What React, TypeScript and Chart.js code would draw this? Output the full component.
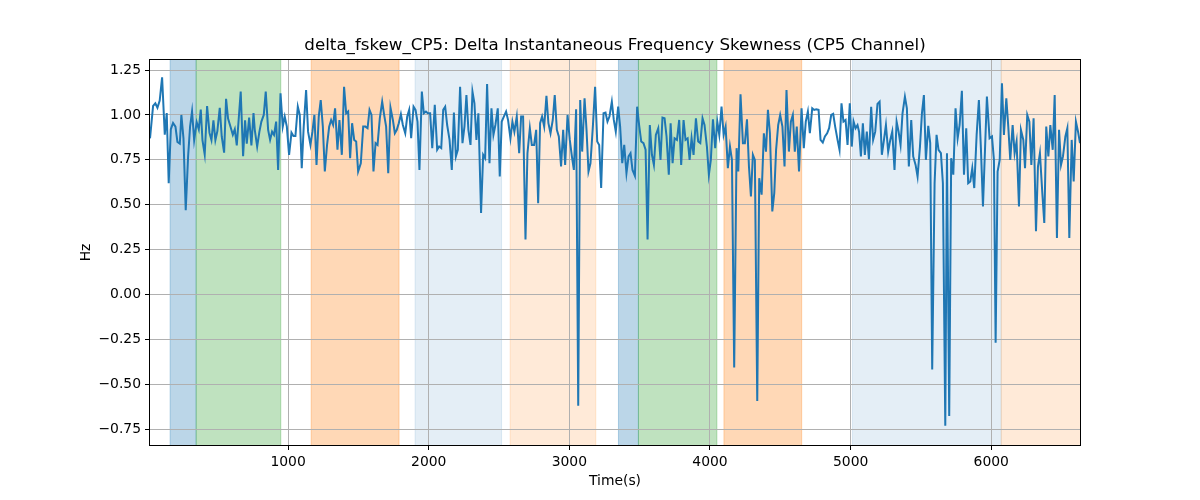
import React, { useEffect, useRef } from "react";
import { Chart, registerables } from "chart.js";

Chart.register(...registerables);

// ---- data ----
const timeS: number[] = [
  18, 40, 56, 71, 87, 104, 123, 137, 151, 166, 182, 199, 213, 230, 241, 256, 272, 289, 303, 317,
  332, 350, 365, 379, 391, 407, 424, 441, 455, 469, 483, 497, 514, 528, 545, 559, 573, 592, 607, 621,
  635, 649, 663, 680, 694, 706, 723, 739, 754,
  763, 780, 796, 810, 827, 841, 858, 872, 886, 900, 915, 929, 946, 962, 976, 991, 1007, 1024, 1038, 1052,
  1069, 1083, 1097, 1111, 1128, 1142, 1159, 1173, 1187, 1202, 1218, 1232, 1247, 1261, 1277, 1292, 1306, 1320, 1334, 1351,
  1365, 1382, 1398, 1413, 1427, 1441, 1455, 1470, 1484, 1498,
  1517, 1534, 1550, 1565, 1579, 1593, 1607, 1622, 1636, 1652, 1669, 1683, 1697, 1712, 1728, 1745, 1759, 1773, 1787, 1802,
  1816, 1833, 1847, 1861, 1875, 1892, 1906, 1920, 1934, 1951, 1965, 1980, 1994, 2010, 2025, 2043, 2060, 2074, 2089, 2103,
  2117, 2131, 2148, 2164, 2179, 2193, 2207,
  2223, 2240, 2254, 2268, 2282, 2297, 2311, 2325, 2339, 2353, 2372, 2387, 2401, 2415, 2432, 2446, 2460, 2474, 2491, 2505,
  2519, 2534, 2550, 2564, 2581, 2595, 2609, 2626, 2643, 2657, 2671, 2688, 2702, 2719, 2733, 2749, 2764, 2778, 2792, 2806,
  2821, 2837, 2851, 2866, 2882, 2896, 2911, 2925, 2941, 2956, 2970,
  2987, 3003, 3018, 3032, 3048, 3063, 3077, 3091, 3108, 3122, 3136, 3150, 3167, 3183, 3198, 3212, 3226, 3243, 3257, 3271,
  3285, 3302, 3316, 3330, 3347, 3361, 3376, 3390, 3406, 3421, 3435, 3449, 3466, 3482, 3496, 3511, 3527, 3542, 3556, 3572,
  3587, 3601, 3615, 3632, 3648, 3662, 3677, 3691, 3707,
  3720, 3734, 3748, 3765, 3781, 3795, 3812, 3826, 3841, 3855, 3869, 3883, 3900, 3916, 3931, 3947, 3961, 3978, 3992, 4006,
  4021, 4037, 4052, 4066, 4082, 4097, 4111, 4127, 4142, 4156, 4172, 4189, 4201, 4217, 4234, 4248, 4263, 4277, 4291, 4305,
  4319, 4336, 4350, 4367, 4383, 4398, 4412, 4426, 4443, 4457,
  4470, 4485, 4499, 4515, 4530, 4544, 4561, 4575, 4589, 4603, 4617, 4633, 4651, 4667, 4681, 4696, 4710, 4727, 4741, 4755,
  4772, 4786, 4802, 4817, 4833, 4847, 4862, 4876, 4890, 4907, 4921, 4935, 4949, 4964, 4978, 4994, 5008, 5021, 5035, 5049,
  5060, 5073, 5087, 5101, 5115, 5130, 5146, 5160, 5175, 5191,
  5206, 5222, 5237, 5251, 5267, 5282, 5296, 5312, 5327, 5341, 5355, 5369, 5386, 5400, 5414, 5431, 5445, 5462, 5476, 5493,
  5507, 5521, 5535, 5552, 5566, 5580, 5597, 5611, 5625, 5642, 5656, 5673, 5685, 5701, 5715, 5730, 5746, 5761, 5775, 5791,
  5806, 5822, 5836, 5851, 5865, 5879, 5896, 5912, 5927,
  5941, 5969, 5988, 6005, 6019, 6031, 6045, 6060, 6076, 6090, 6107, 6121, 6135, 6152, 6166, 6180, 6197, 6211, 6228, 6240,
  6256, 6271, 6285, 6301, 6318, 6332, 6346, 6363, 6377, 6391, 6406, 6420, 6437, 6451, 6467, 6482, 6496, 6510, 6527, 6541,
  6555, 6572, 6586, 6602, 6617, 6631,
];

const skewHz: number[] = [
  0.87, 1.05, 1.065, 1.04, 1.08, 1.21, 0.89, 1.01, 0.62, 0.92, 0.955, 0.935, 0.85, 0.84, 1.0, 0.87, 0.47, 0.77, 0.935, 1.02,
  0.86, 0.96, 0.92, 1.03, 0.86, 0.78, 1.05, 0.9, 0.86, 0.97, 0.86, 0.91, 1.04, 0.88, 0.79, 1.09, 0.98, 0.93, 0.89, 0.92,
  0.83, 0.98, 1.13, 0.77, 0.97, 0.84, 0.985, 0.83, 1.01,
  0.917, 0.824, 0.907, 0.963, 1.0, 1.13, 0.917, 0.861, 0.907, 0.889, 0.963, 0.694, 1.12, 0.935, 0.991, 0.935, 0.778, 0.902, 0.883, 0.883,
  1.046, 1.0, 0.704, 0.935, 1.139, 0.907, 0.833, 0.907, 1.0, 0.722, 0.991, 1.083, 0.935, 0.685, 0.833, 0.935, 0.972, 0.944, 1.037, 0.806,
  0.972, 0.778, 1.157, 1.009, 1.019, 0.759, 0.954, 0.861, 0.852, 0.685,
  0.731, 0.935, 0.935, 0.926, 1.028, 1.0, 0.685, 0.843, 0.833, 0.981, 1.074, 1.0, 0.935, 0.676, 1.041, 0.972, 0.898, 0.917, 0.954, 1.004,
  0.944, 0.898, 0.991, 1.028, 0.87, 1.046, 1.028, 0.963, 0.694, 1.13, 1.009, 1.019, 1.009, 1.009, 0.815, 1.056, 0.806, 0.824, 0.815, 1.028,
  1.046, 0.944, 0.861, 0.694, 1.013, 0.769, 0.806,
  1.157, 0.843, 0.935, 1.111, 0.917, 0.833, 1.13, 1.065, 0.861, 1.009, 0.454, 0.778, 0.759, 1.172, 0.731, 1.037, 0.889, 0.944, 1.037, 0.657,
  0.963, 0.991, 1.019, 0.972, 0.87, 0.963, 0.907, 0.991, 0.787, 0.991, 0.991, 0.306, 0.787, 0.926, 0.833, 0.833, 0.917, 0.509, 0.954, 0.991,
  0.935, 1.106, 0.954, 0.898, 0.972, 1.111, 0.917, 0.88, 0.713, 0.917, 0.722,
  1.0, 0.861, 0.769, 0.694, 1.031, -0.62, 1.083, 0.796, 1.093, 0.917, 0.685, 0.731, 0.935, 1.157, 0.852, 0.833, 0.593, 1.009, 1.013, 0.963,
  0.991, 1.074, 0.972, 0.907, 1.046, 0.935, 0.731, 0.833, 0.676, 0.769, 0.787, 0.694, 0.661, 1.046, 0.944, 0.852, 0.843, 0.806, 0.306, 0.944,
  0.778, 0.722, 0.889, 0.926, 0.75, 0.985, 0.981, 0.88, 0.667,
  0.954, 0.731, 0.87, 0.861, 0.972, 0.722, 0.972, 0.861, 0.87, 0.75, 0.87, 0.778, 0.981, 0.852, 0.843, 0.981, 0.944, 0.824, 0.667, 0.75,
  0.976, 0.815, 0.963, 0.889, 1.046, 0.889, 0.935, 0.704, 0.824, 0.75, -0.407, 0.815, 0.685, 1.115, 0.843, 0.843, 0.976, 0.713, 0.546, 0.778,
  0.75, -0.593, 0.648, 0.556, 0.898, 0.796, 1.028, 0.898, 0.463, 0.565,
  0.806, 0.944, 1.0, 0.935, 0.713, 1.139, 0.796, 0.963, 1.0, 0.796, 0.935, 0.685, 1.037, 0.815, 0.963, 1.019, 0.898, 1.037, 1.028, 1.031,
  1.028, 0.861, 0.846, 0.88, 0.898, 0.926, 1.0, 1.006, 0.935, 0.861, 0.806, 1.065, 0.963, 0.972, 0.833, 1.065, 0.824, 0.963, 0.926, 0.944,
  0.907, 0.769, 0.954, 0.778, 0.907, 0.754, 1.046, 0.861, 0.907, 1.061,
  1.074, 0.778, 0.861, 0.944, 0.796, 0.861, 0.907, 0.694, 0.963, 0.907, 0.833, 1.009, 1.102, 1.037, 0.713, 0.972, 0.769, 0.722, 0.657, 0.824,
  1.009, 1.111, 0.75, 0.939, 0.843, -0.417, 0.62, 0.889, 0.806, 0.787, 0.62, -0.731, 0.787, -0.676, 0.759, 0.667, 1.037, 0.87, 0.944, 1.135,
  0.667, 0.926, 0.62, 0.63, 0.704, 0.593, 0.889, 1.083, 0.8,
  0.491, 1.102, 0.87, 0.88, 0.75, -0.269, 0.685, 0.75, 1.176, 0.889, 1.093, 0.935, 0.75, 0.944, 0.787, 0.852, 0.491, 0.917, 0.861, 0.704,
  1.0, 0.963, 0.722, 0.981, 0.352, 0.713, 0.787, 0.565, 0.398, 0.935, 0.769, 0.944, 0.806, 1.111, 0.315, 0.917, 0.722, 0.769, 0.88, 0.926,
  0.315, 0.861, 0.63, 0.963, 0.907, 0.843,
];

const spanStart: number[] = [161, 346, 1164, 1903, 2579, 3349, 3491, 4099, 5013, 6071];
const spanEnd: number[] = [346, 948, 1789, 2518, 3188, 3491, 4049, 4652, 6071, 6640];
const spanKind: string[] = ["blue", "green", "orange", "lightblue", "lightorange", "blue", "green", "orange", "lightblue", "lightorange"];

const xTicks: number[] = [1000, 2000, 3000, 4000, 5000, 6000];
const yTicks: number[] = [-0.75, -0.5, -0.25, 0, 0.25, 0.5, 0.75, 1.0, 1.25];

const TITLE = "delta_fskew_CP5: Delta Instantaneous Frequency Skewness (CP5 Channel)";
const X_LABEL = "Time(s)";
const Y_LABEL = "Hz";

const SPAN_COLORS: Record<string, string> = {
  blue: "rgba(31,119,180,0.3)",
  green: "rgba(44,160,44,0.3)",
  orange: "rgba(255,127,14,0.3)",
  lightblue: "rgba(31,119,180,0.12)",
  lightorange: "rgba(255,127,14,0.16)",
};

const FONT = "'DejaVu Sans', sans-serif";

const spansPlugin = {
  id: "spans",
  beforeDraw(chart: any) {
    const { ctx, chartArea } = chart;
    const x = chart.scales.x;
    ctx.save();
    ctx.beginPath();
    ctx.rect(chartArea.left, chartArea.top, chartArea.right - chartArea.left, chartArea.bottom - chartArea.top);
    ctx.clip();
    for (let i = 0; i < spanStart.length; i++) {
      const x1 = x.getPixelForValue(spanStart[i]);
      const x2 = x.getPixelForValue(spanEnd[i]);
      const c = SPAN_COLORS[spanKind[i]];
      ctx.fillStyle = c;
      ctx.fillRect(x1, chartArea.top, x2 - x1, chartArea.bottom - chartArea.top);
      ctx.strokeStyle = c;
      ctx.lineWidth = 1;
      ctx.beginPath();
      ctx.moveTo(x1, chartArea.top);
      ctx.lineTo(x1, chartArea.bottom);
      ctx.moveTo(x2, chartArea.top);
      ctx.lineTo(x2, chartArea.bottom);
      ctx.stroke();
    }
    ctx.restore();
  },
};

const framePlugin = {
  id: "frame",
  afterDatasetsDraw(chart: any) {
    const { ctx, chartArea } = chart;
    ctx.save();
    ctx.strokeStyle = "#000";
    ctx.lineWidth = 1;
    ctx.strokeRect(
      Math.round(chartArea.left) - 0.5,
      Math.round(chartArea.top) - 0.5,
      Math.round(chartArea.right - chartArea.left) + 1,
      Math.round(chartArea.bottom - chartArea.top) + 1
    );
    ctx.restore();
  },
  afterDraw(chart: any) {
    const { ctx, chartArea } = chart;
    const cx = (chartArea.left + chartArea.right) / 2;
    const cy = (chartArea.top + chartArea.bottom) / 2;
    ctx.save();
    ctx.fillStyle = "#000";
    ctx.textAlign = "center";
    ctx.textBaseline = "middle";
    ctx.font = `16.7px ${FONT}`;
    ctx.fillText(TITLE, cx, 46);
    ctx.font = `13.9px ${FONT}`;
    ctx.fillText(X_LABEL, cx, 481);
    ctx.translate(86, cy);
    ctx.rotate(-Math.PI / 2);
    ctx.fillText(Y_LABEL, 0, 0);
    ctx.restore();
  },
};

export default function App() {
  const ref = useRef<HTMLCanvasElement>(null);

  useEffect(() => {
    if (!ref.current) return;
    const points = timeS.map((t, i) => ({ x: t, y: skewHz[i] }));
    const tickFont = { family: FONT, size: 13.9 };
    const chart = new Chart(ref.current, {
      type: "line",
      data: {
        datasets: [
          {
            data: points,
            borderColor: "#1f77b4",
            backgroundColor: "#1f77b4",
            borderWidth: 2,
            pointRadius: 0,
            tension: 0,
            fill: false,
          },
        ],
      },
      options: {
        responsive: false,
        devicePixelRatio: 1,
        animation: false,
        events: [],
        layout: { padding: { left: 0, right: 120, top: 60, bottom: 0 } },
        plugins: {
          legend: { display: false },
          tooltip: { enabled: false },
          title: { display: false },
        },
        scales: {
          x: {
            type: "linear",
            min: timeS[0],
            max: timeS[timeS.length - 1],
            afterFit: (s: any) => {
              s.height = 55;
            },
            afterBuildTicks: (s: any) => {
              s.ticks = xTicks.map((v) => ({ value: v }));
            },
            ticks: {
              font: tickFont,
              color: "#000",
              padding: 4,
              maxRotation: 0,
              autoSkip: false,
              callback: (v: any) => String(v),
            },
            grid: { color: "#b0b0b0", lineWidth: 1, tickLength: 5, tickColor: "#000", drawTicks: true },
            border: { display: false },
          },
          y: {
            type: "linear",
            min: -0.838,
            max: 1.306,
            afterFit: (s: any) => {
              s.width = 150;
            },
            afterBuildTicks: (s: any) => {
              s.ticks = yTicks.map((v) => ({ value: v }));
            },
            ticks: {
              font: tickFont,
              color: "#000",
              padding: 4,
              autoSkip: false,
              callback: (v: any) => Number(v).toFixed(2).replace("-", "\u2212"),
            },
            grid: { color: "#b0b0b0", lineWidth: 1, tickLength: 5, tickColor: "#000", drawTicks: true },
            border: { display: false },
          },
        },
      },
      plugins: [spansPlugin, framePlugin],
    });
    return () => chart.destroy();
  }, []);

  return (
    <div style={{ position: "fixed", left: 0, top: 0, width: 1200, height: 500, background: "#fff" }}>
      <canvas ref={ref} width={1200} height={500} style={{ display: "block", width: 1200, height: 500 }} />
    </div>
  );
}
